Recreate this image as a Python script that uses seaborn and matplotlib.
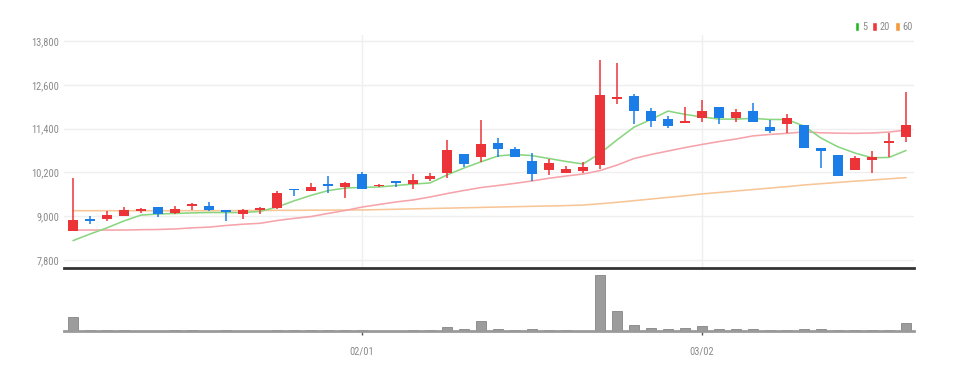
import matplotlib
matplotlib.use("Agg")
import numpy as np
import pandas as pd
import matplotlib.pyplot as plt
import seaborn as sns
from matplotlib import font_manager
from matplotlib.patches import Patch
from matplotlib.ticker import FuncFormatter

# ---------------- data ----------------
opens = [8600, 8890, 8930, 9010, 9140, 9240, 9080, 9290, 9290, 9170,
         9060, 9180, 9220, 9730, 9700, 9880, 9790, 10150, 9820, 9930,
         9890, 10020, 10190, 10700, 10620, 11000, 10840, 10510, 10270, 10180,
         10250, 10400, 12220, 12280, 11880, 11660, 11565, 11690, 12000, 11690,
         11890, 11450, 11520, 11500, 10860, 10680, 10270, 10545, 11010, 11180]
highs = [10050, 9000, 9130, 9260, 9230, 9240, 9270, 9370, 9400, 9170,
         9200, 9250, 9690, 9730, 9920, 10100, 9930, 10200, 9890, 9940,
         10160, 10190, 11080, 10710, 11640, 11140, 10890, 10720, 10570, 10380,
         10480, 13280, 13210, 12340, 11960, 11750, 12000, 12190, 12000, 11940,
         12110, 11640, 11790, 11500, 10860, 10690, 10650, 10790, 11290, 12390]
lows = [8600, 8790, 8880, 9010, 9080, 8980, 9070, 9170, 9130, 8880,
        8910, 9060, 9200, 9560, 9690, 9640, 9490, 9740, 9790, 9790,
        9750, 9960, 10040, 10360, 10490, 10630, 10610, 9970, 10130, 10170,
        10170, 10290, 12080, 11530, 11450, 11410, 11560, 11590, 11530, 11570,
        11570, 11270, 11290, 10870, 10310, 10100, 10260, 10180, 10630, 11020]
closes = [8900, 8870, 9040, 9170, 9160, 9050, 9210, 9340, 9170, 9110,
          9160, 9200, 9630, 9710, 9810, 9820, 9920, 9750, 9860, 9910,
          10000, 10090, 10800, 10430, 10970, 10840, 10620, 10160, 10470, 10290,
          10360, 12320, 12270, 11870, 11620, 11480, 11600, 11890, 11690, 11860,
          11580, 11340, 11700, 10880, 10780, 10110, 10590, 10610, 11050, 11500]
ma5 = [8330, 8510, 8680, 8870, 9030, 9060, 9075, 9090, 9100, 9100,
       9100, 9130, 9250, 9420, 9570, 9700, 9770, 9790, 9800, 9840,
       9880, 9910, 10130, 10320, 10490, 10650, 10690, 10660, 10580, 10500,
       10430, 10720, 11090, 11440, 11650, 11880, 11790, 11720, 11660, 11660,
       11680, 11650, 11650, 11470, 11140, 10900, 10730, 10600, 10610, 10800]
ma20 = [8620, 8620, 8620, 8620, 8630, 8635, 8650, 8680, 8700, 8745,
        8780, 8805, 8880, 8940, 8990, 9075, 9155, 9250, 9320, 9390,
        9445, 9525, 9620, 9705, 9785, 9840, 9900, 9965, 10040, 10100,
        10155, 10250, 10400, 10580, 10690, 10785, 10880, 10965, 11045, 11115,
        11200, 11240, 11270, 11310, 11285, 11275, 11270, 11280, 11305, 11360]
ma60 = [9150, 9150, 9150, 9150, 9150, 9150, 9150, 9150, 9150, 9150,
        9155, 9155, 9160, 9160, 9165, 9165, 9170, 9170, 9180, 9190,
        9200, 9210, 9220, 9230, 9240, 9250, 9260, 9270, 9280, 9290,
        9305, 9340, 9380, 9425, 9470, 9515, 9560, 9610, 9650, 9690,
        9730, 9770, 9810, 9855, 9890, 9925, 9960, 9990, 10025, 10055]
volume = [140000, 15000, 15000, 15000, 0, 0, 15000, 15000, 0, 15000,
          0, 0, 15000, 15000, 15000, 15000, 15000, 15000, 0, 0,
          15000, 15000, 40000, 25000, 100000, 20000, 15000, 25000, 15000, 15000,
          0, 560000, 200000, 60000, 30000, 20000, 30000, 50000, 20000, 20000,
          20000, 15000, 15000, 20000, 20000, 15000, 15000, 15000, 15000, 85000]
date_tick_index = [17, 37]
date_tick_labels = ["02/01", "03/02"]
price_ticks = [7800, 9000, 10200, 11400, 12600, 13800]
legend_labels = ["5", "20", "60"]

# ---------------- style ----------------
sns.set_theme(style="white")
avail = {f.name for f in font_manager.fontManager.ttflist}
fam = next((f for f in ["Roboto Condensed", "Liberation Sans Narrow",
                        "Open Sans Condensed", "Roboto"] if f in avail), "DejaVu Sans")
plt.rcParams['font.family'] = [fam, 'DejaVu Sans']

UP, DOWN = "#eb3338", "#1a7de8"
C5, C20, C60 = "#8ad680", "#f6a3aa", "#f8c597"
TXT = "#8a8a8a"

W, H = 954, 372
def rect(l, t, r, b):
    return [l / W, 1 - b / H, (r - l) / W, (b - t) / H]

fig = plt.figure(figsize=(W / 100, H / 100), dpi=100)
ax = fig.add_axes(rect(64.5, 35, 914.5, 268))
axv = fig.add_axes(rect(64.5, 270, 914.5, 331))

n = len(closes)
idx = np.arange(n)
df = pd.DataFrame({"idx": idx, "open": opens, "high": highs, "low": lows,
                   "close": closes, "ma5": ma5, "ma20": ma20, "ma60": ma60,
                   "volume": volume})

# ---------------- price panel ----------------
ax.set_xlim(-0.5, n - 0.5)
ax.set_ylim(7580, 13965)
for yv in price_ticks:
    ax.axhline(yv, color="#efefef", lw=1, zorder=0)
for xv in date_tick_index:
    ax.axvline(xv, color="#efefef", lw=1, zorder=0)

sns.lineplot(data=df, x="idx", y="ma60", ax=ax, color=C60, lw=1.15, zorder=2)
sns.lineplot(data=df, x="idx", y="ma20", ax=ax, color=C20, lw=1.15, zorder=2)
sns.lineplot(data=df, x="idx", y="ma5", ax=ax, color=C5, lw=1.15, zorder=2)

cols = [UP if c >= o else DOWN for o, c in zip(opens, closes)]
ax.vlines(idx, lows, highs, colors=cols, lw=1.1, zorder=3)
bottoms = np.minimum(opens, closes)
heights = np.maximum(np.abs(np.array(closes) - np.array(opens)), 45)
ax.bar(idx, heights, bottom=bottoms, width=0.56, color=cols, zorder=4, linewidth=0)

ax.set_yticks(price_ticks)
ax.yaxis.set_major_formatter(FuncFormatter(lambda v, p: f"{int(v):,}"))
ax.set_xticks([])
ax.set_xlabel("")
ax.set_ylabel("")
ax.tick_params(axis="y", length=0, pad=4, labelsize=7.5, labelcolor=TXT)
for s in ["left", "right", "top"]:
    ax.spines[s].set_visible(False)
ax.spines["bottom"].set_color("#333333")
ax.spines["bottom"].set_linewidth(2)

# ---------------- volume panel ----------------
sns.barplot(data=df, x="idx", y="volume", ax=axv, native_scale=True, width=0.56,
            color="#9c9c9c", saturation=1, errorbar=None,
            edgecolor="#858585", linewidth=0.6)
axv.set_xlim(-0.5, n - 0.5)
axv.set_ylim(0, 610000)
axv.set_yticks([])
axv.set_xticks(date_tick_index)
axv.set_xticklabels(date_tick_labels)
axv.set_xlabel("")
axv.set_ylabel("")
axv.tick_params(axis="x", length=3, width=1, color="#555555", pad=8,
                labelsize=7.5, labelcolor=TXT, bottom=True)
for s in ["left", "right", "top"]:
    axv.spines[s].set_visible(False)
axv.spines["bottom"].set_color("#9a9a9a")
axv.spines["bottom"].set_linewidth(2)

# ---------------- legend ----------------
handles = [Patch(facecolor=c) for c in ["#23b823", "#ec3a3f", "#f59a3a"]]
fig.legend(handles, legend_labels, loc="upper right",
           bbox_to_anchor=(918 / W, 1 - 17 / H), ncol=3, frameon=False,
           fontsize=7.5, handlelength=0.45, handleheight=0.9, handletextpad=0.25,
           columnspacing=0.5, borderpad=0, labelcolor=TXT)

fig.savefig("out.png", dpi=100)
